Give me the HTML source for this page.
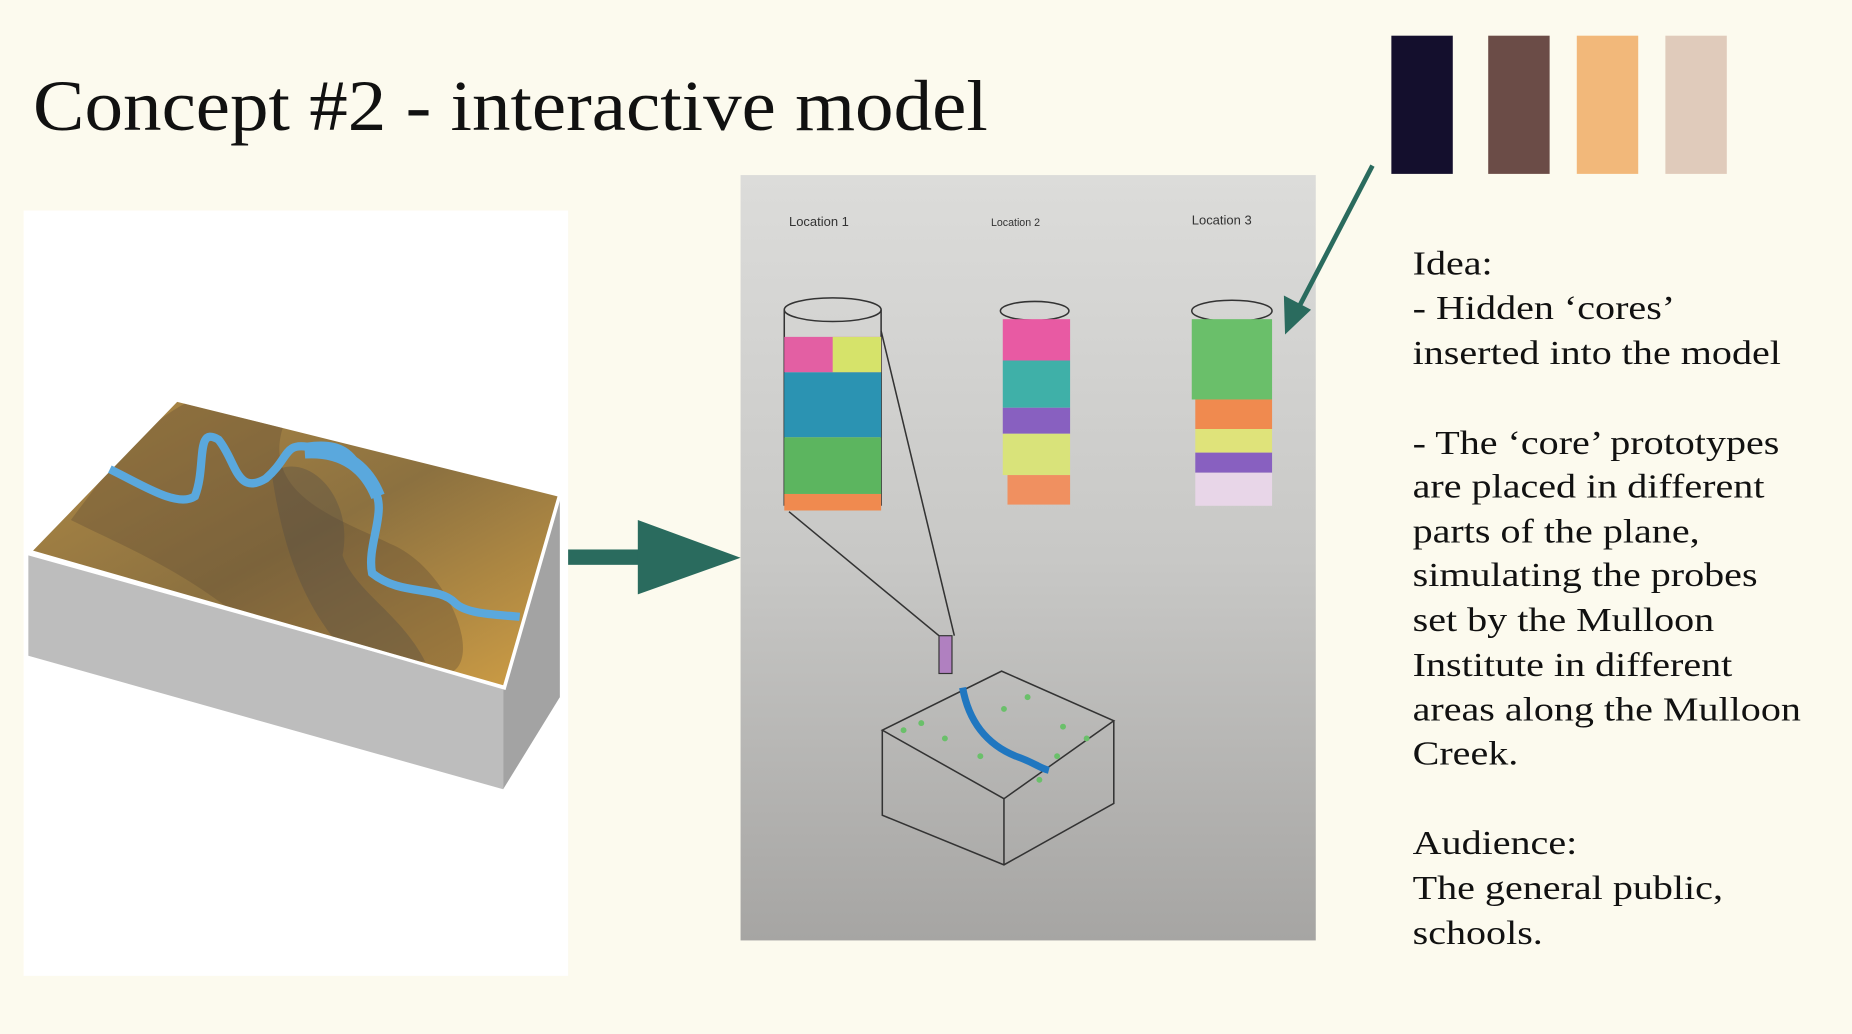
<!DOCTYPE html>
<html><head><meta charset="utf-8"><style>
html,body{margin:0;padding:0;background:#fcfaee;}
svg{display:block}
</style></head><body>
<svg width="1852" height="1034" viewBox="0 0 1568 875" xmlns="http://www.w3.org/2000/svg">
<defs>
<linearGradient id="paper" x1="0" y1="0" x2="0" y2="1">
<stop offset="0" stop-color="#dcdcda"/><stop offset="0.5" stop-color="#c8c8c6"/><stop offset="1" stop-color="#a6a5a3"/>
</linearGradient>
<linearGradient id="terr" x1="0" y1="0" x2="1" y2="1">
<stop offset="0" stop-color="#b08a45"/><stop offset="0.5" stop-color="#8c7140"/><stop offset="1" stop-color="#cf9e45"/>
</linearGradient>
<clipPath id="top"><polygon points="28,466 150,340 472,420 426,580"/></clipPath>
</defs>
<rect width="1568" height="875" fill="#fcfaee"/>
<g transform="translate(28,0) scale(1.07,1) translate(-28,0)">
<text x="28" y="110" font-family="Liberation Serif, serif" font-size="61" fill="#111">Concept #2 - interactive model</text></g>
<rect x="1178" y="30" width="52" height="117" fill="#140f2d"/>
<rect x="1260" y="30" width="52" height="117" fill="#6b4c47"/>
<rect x="1335" y="30" width="52" height="117" fill="#f2b87a"/>
<rect x="1410" y="30" width="52" height="117" fill="#e0cbbb"/>

<rect x="20" y="178" width="461" height="648" fill="#ffffff"/>
<polygon points="24,470 426,582 426,668 24,555" fill="#bdbdbd"/>
<polygon points="426,582 474,420 474,590 426,668" fill="#a3a3a3"/>
<polygon points="26,467 150,336 476,417 428,584" fill="#fff"/>
<polygon points="28,466 150,340 472,420 426,580" fill="url(#terr)"/>
<g clip-path="url(#top)">
<path d="M90,400 C150,320 250,300 240,360 C220,420 290,440 330,460 C380,480 410,560 380,570 L200,520 C150,480 100,460 60,440Z" fill="#5f4b33" opacity="0.35"/>
<path d="M230,400 C260,380 300,420 290,470 C300,500 340,520 360,560 L300,560 C260,520 240,470 230,400Z" fill="#4f4a45" opacity="0.35"/>
</g>
<path d="M93,397 C120,410 150,430 165,420 C175,395 165,360 185,372 C200,390 200,420 225,405 C245,388 240,375 260,378 C300,372 300,395 315,412 C330,430 310,460 315,485 C340,505 370,495 385,510 C395,520 420,520 440,522" fill="none" stroke="#5aa8dd" stroke-width="7"/>
<path d="M258,382 C290,380 310,395 320,420" fill="none" stroke="#5aa8dd" stroke-width="12"/>

<rect x="481" y="465" width="60" height="13" fill="#2a6b5e"/>
<polygon points="540,440 627,472 540,503" fill="#2a6b5e"/>

<rect x="627" y="148" width="487" height="648" fill="url(#paper)"/>
<g font-family="Liberation Sans, sans-serif" font-size="11" fill="#333">
<text x="668" y="191">Location 1</text><text x="839" y="191" font-size="9">Location 2</text><text x="1009" y="190">Location 3</text></g>
<g stroke="#333" stroke-width="1.3" fill="none">
<ellipse cx="705" cy="262" rx="41" ry="10"/>
<line x1="664" y1="262" x2="664" y2="428"/><line x1="746" y1="262" x2="746" y2="428"/>
<ellipse cx="876" cy="263" rx="29" ry="8"/>
<ellipse cx="1043" cy="263" rx="34" ry="9"/>
<line x1="668" y1="433" x2="795" y2="538"/><line x1="746" y1="280" x2="808" y2="538"/>
</g>
<rect x="664" y="285" width="82" height="30" fill="#e35fa3"/><rect x="705" y="285" width="41" height="30" fill="#d6e36a"/>
<rect x="664" y="315" width="82" height="55" fill="#2b93b2"/>
<rect x="664" y="370" width="82" height="48" fill="#5cb55f"/>
<rect x="664" y="418" width="82" height="14" fill="#f08a4f"/>
<rect x="849" y="270" width="57" height="35" fill="#e85aa3"/>
<rect x="849" y="305" width="57" height="40" fill="#3fb0a8"/>
<rect x="849" y="345" width="57" height="22" fill="#8860c0"/>
<rect x="849" y="367" width="57" height="35" fill="#d9e37a"/>
<rect x="853" y="402" width="53" height="25" fill="#f09060"/>
<rect x="1009" y="270" width="68" height="68" fill="#6abf6a"/>
<rect x="1012" y="338" width="65" height="25" fill="#f08a4f"/>
<rect x="1012" y="363" width="65" height="20" fill="#dfe37a"/>
<rect x="1012" y="383" width="65" height="17" fill="#8860c0"/>
<rect x="1012" y="400" width="65" height="28" fill="#e8d6e8"/>
<rect x="795" y="538" width="11" height="32" fill="#b080c0" stroke="#333"/>
<g stroke="#333" stroke-width="1.3" fill="none">
<polygon points="747,618 848,568 943,610 850,676"/>
<polyline points="747,618 747,690 850,732 943,680 943,610"/><line x1="850" y1="676" x2="850" y2="732"/>
</g>
<g fill="#6ac06a">
<circle cx="780" cy="612" r="2.5"/><circle cx="800" cy="625" r="2.5"/><circle cx="850" cy="600" r="2.5"/><circle cx="870" cy="590" r="2.5"/><circle cx="900" cy="615" r="2.5"/><circle cx="920" cy="625" r="2.5"/><circle cx="830" cy="640" r="2.5"/><circle cx="880" cy="660" r="2.5"/><circle cx="765" cy="618" r="2.5"/><circle cx="895" cy="640" r="2.5"/>
</g>
<path d="M815,582 C820,610 835,630 860,640 C875,645 880,650 888,652" fill="none" stroke="#2077c0" stroke-width="6"/>

<line x1="1162" y1="140" x2="1097" y2="265" stroke="#2a6b5e" stroke-width="4"/>
<polygon points="1088,283 1087,250 1110,262" fill="#2a6b5e"/>

<g transform="translate(1196,0) scale(1.17,1) translate(-1196,0)" font-family="Liberation Serif, serif" font-size="29" fill="#111">
<text x="1196" y="232">Idea:</text>
<text x="1196" y="270">- Hidden ‘cores’</text>
<text x="1196" y="308">inserted into the model</text>
<text x="1196" y="384">- The ‘core’ prototypes</text>
<text x="1196" y="421">are placed in different</text>
<text x="1196" y="459">parts of the plane,</text>
<text x="1196" y="496">simulating the probes</text>
<text x="1196" y="534">set by the Mulloon</text>
<text x="1196" y="572">Institute in different</text>
<text x="1196" y="610">areas along the Mulloon</text>
<text x="1196" y="647">Creek.</text>
<text x="1196" y="723">Audience:</text>
<text x="1196" y="761">The general public,</text>
<text x="1196" y="799">schools.</text>
</g>
</svg>
</body></html>
